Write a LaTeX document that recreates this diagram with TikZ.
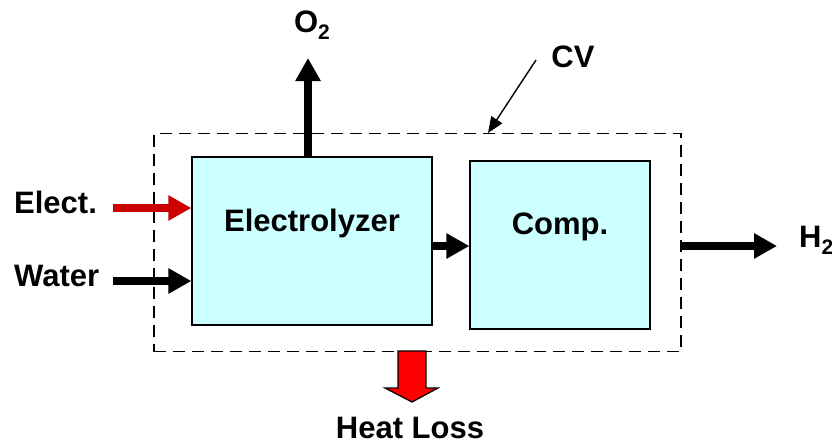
\documentclass[tikz,border=0pt]{standalone}
\usepackage{fontspec}
\setmainfont{Liberation Sans}
\usetikzlibrary{arrows.meta}
\definecolor{boxfill}{HTML}{CCFFFF}
\definecolor{elred}{HTML}{CC0000}
\newcommand{\subtwo}{\raisebox{-0.22em}{\fontsize{21}{21}\selectfont 2}}
\begin{document}
\begin{tikzpicture}[x=1pt,y=-1pt,
  lbl/.style={inner sep=0pt,font=\fontsize{31}{36}\selectfont\bfseries},
  unit/.style={draw=black,line width=1.3pt,fill=boxfill,inner sep=0pt},
  flow/.style={line width=7.5pt,-{Triangle[length=23pt,width=24pt]}},
  cvline/.style={draw=black,line width=1.3pt,dash pattern=on 12pt off 7pt}]
\useasboundingbox (0,0) rectangle (832,445);
% control volume
\node[cvline,minimum width=527pt,minimum height=218pt,inner sep=0pt] (cv) at (417.5,242.5) {};
% units
\node[unit,minimum width=240pt,minimum height=168pt] (ely) at (312,241) {};
\node[lbl] at (312,223) {Electrolyzer};
\node[unit,minimum width=180pt,minimum height=168pt] (comp) at (560,245) {};
\node[lbl] at (560,227) {Comp.};
% labels
\node[lbl,anchor=west] (elect) at (14,202) {Elect.};
\node[lbl,anchor=west] (water) at (14,276) {Water};
\node[lbl] (o2) at (312,25) {O\subtwo};
\node[lbl,anchor=west] (h2) at (799,240) {H\subtwo};
\node[lbl] (cvl) at (573,57) {CV};
\node[lbl] (heat) at (410,428) {Heat Loss};
% free ends
\coordinate (ein) at (113,208);
\coordinate (win) at (113,281);
\coordinate (o2tip) at (308,58);
\coordinate (h2tip) at (777,246);
\coordinate (cvs) at (536,60);
\coordinate (cvt) at (488,133);
% flows
\draw[flow,elred] (ein) -- (ein -| ely.west);
\draw[flow] (win) -- (win -| ely.west);
\draw[flow] (ely.north -| o2tip) -- (o2tip);
\draw[flow] (ely.east |- 0,246) -- (comp.west |- 0,246);
\draw[flow] (cv.east |- h2tip) -- (h2tip);
\draw[line width=1.4pt,-{Triangle[length=16pt,width=13pt]}] (cvs) -- (cvt);
% heat loss block arrow
\draw[line width=1.2pt,fill=red,line join=miter]
  (398,351) -- (426,351) -- (426,388) -- (438,388) -- (412,402)
  -- (385,388) -- (398,388) -- cycle;
\end{tikzpicture}
\end{document}
